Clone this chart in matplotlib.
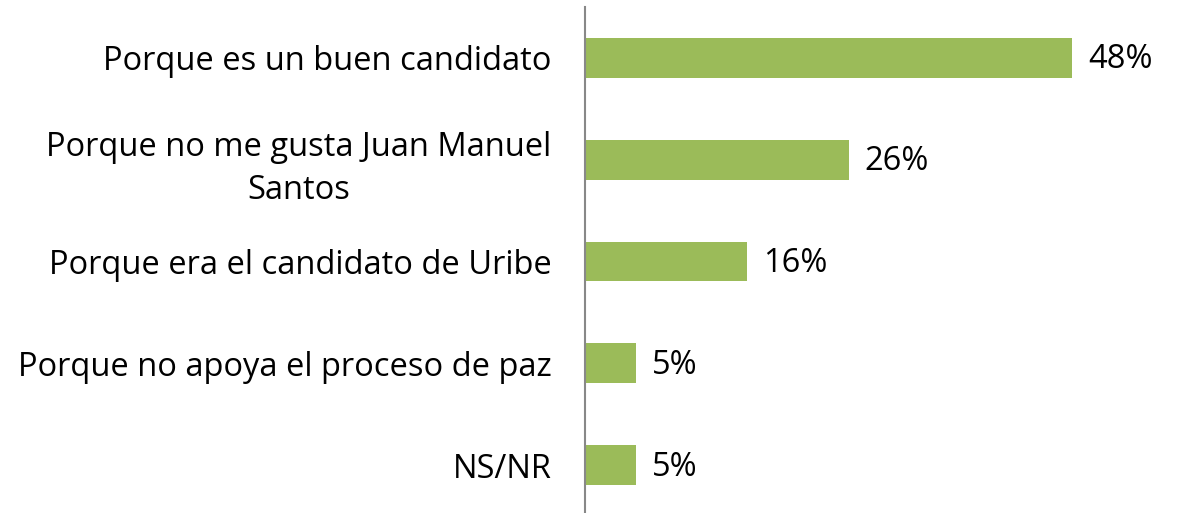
import matplotlib
matplotlib.use("Agg")
import matplotlib.pyplot as plt

categories = ["Porque es un buen candidato",
              "Porque no me gusta Juan Manuel\nSantos",
              "Porque era el candidato de Uribe",
              "Porque no apoya el proceso de paz",
              "NS/NR"]
values = [48, 26, 16, 5, 5]
labels = ["48%", "26%", "16%", "5%", "5%"]

plt.rcParams['font.family'] = ['Open Sans', 'DejaVu Sans']

fig = plt.figure(figsize=(11.78, 5.13), dpi=100)
ax = fig.add_axes([585/1178, -3/513, 1 - 585/1178, 509/513])

y = list(range(len(categories)))
ax.barh(y, values, height=0.39, color="#9BBB59")
for yi, v, lab in zip(y, values, labels):
    ax.text(v + 1.6, yi + 0.02, lab, va="center", ha="left", fontsize=23.5, color="black")

ax.set_yticks(y)
ax.set_yticklabels(categories, fontsize=23.5, ha="right", linespacing=1.4,
                   multialignment="center")
ax.tick_params(axis="y", length=0, pad=24)
ax.set_xticks([])
ax.set_xlim(0, 58.5)
ax.set_ylim(4.5, -0.5)
for s in ["top", "right", "bottom"]:
    ax.spines[s].set_visible(False)
ax.spines["left"].set_color("#888888")
ax.spines["left"].set_linewidth(1.5)
ax.set_facecolor("none")

fig.savefig("out.png", dpi=100)
